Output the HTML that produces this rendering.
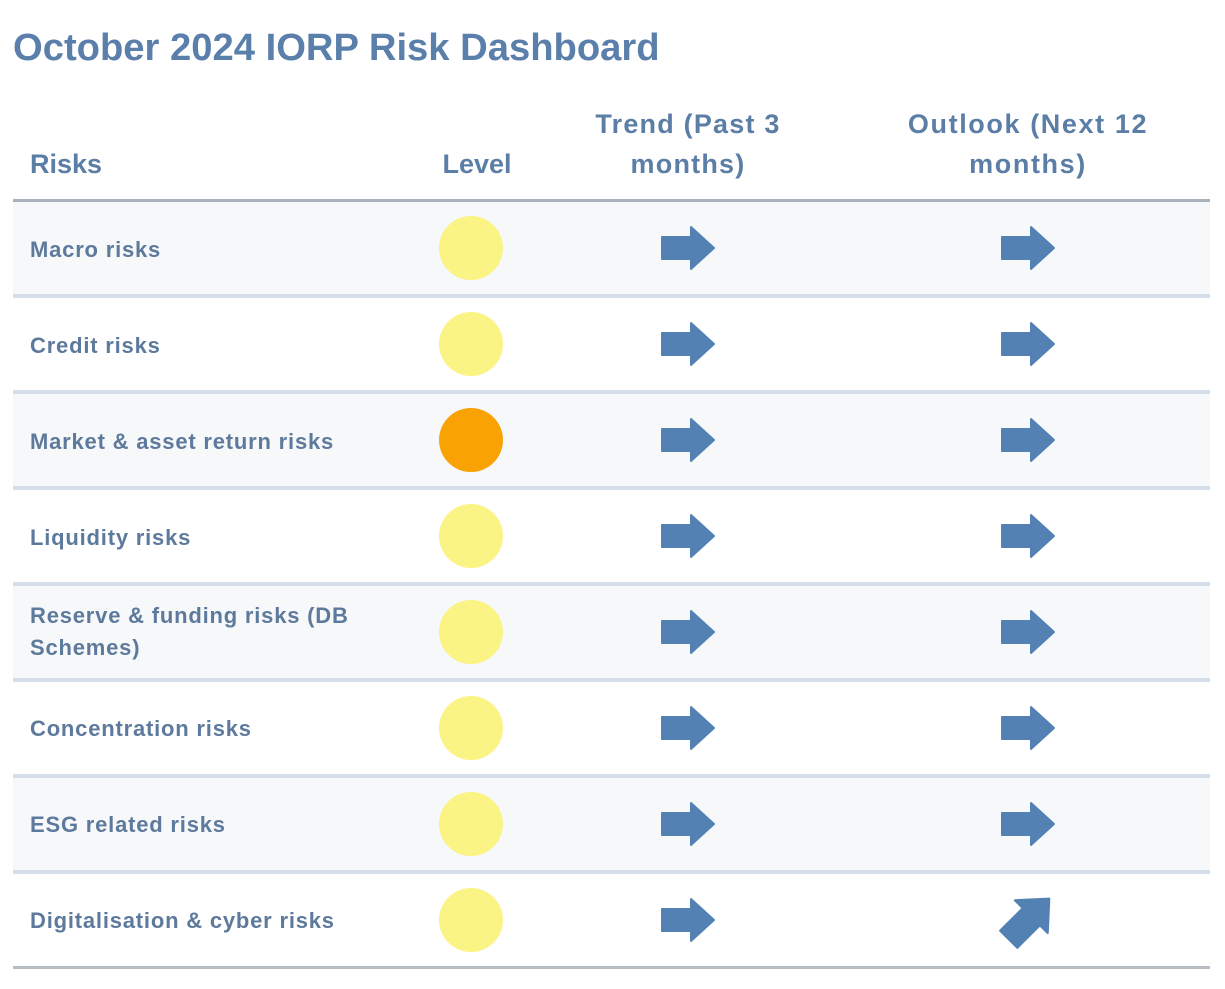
<!DOCTYPE html>
<html><head><meta charset="utf-8"><style>
html,body{margin:0;padding:0;background:#fff;width:1225px;height:989px;overflow:hidden}
svg{display:block}
text{font-family:"Liberation Sans",sans-serif;font-weight:bold}
</style></head><body>
<svg width="1225" height="989" viewBox="0 0 1225 989" xmlns="http://www.w3.org/2000/svg">
<defs>
<path id="ar" d="M-26,-11 H3 V-21 L26,0 L3,21 V11 H-26 Z" fill="#5381b3" stroke="#5381b3" stroke-width="2" stroke-linejoin="round"/>
</defs>
<rect width="1225" height="989" fill="#fff"/>
<text x="13" y="60" font-size="38.2" fill="#5a7fab">October 2024 IORP Risk Dashboard</text>

<g font-size="27" fill="#5b7ea6">
<text x="30" y="173">Risks</text>
<text x="477" y="173" text-anchor="middle">Level</text>
<text x="688" y="133" text-anchor="middle" letter-spacing="1.2">Trend (Past 3</text>
<text x="688" y="173" text-anchor="middle" letter-spacing="1.2">months)</text>
<text x="1028" y="133" text-anchor="middle" letter-spacing="1.6">Outlook (Next 12</text>
<text x="1028" y="173" text-anchor="middle" letter-spacing="1.6">months)</text>
</g>

<!-- rows backgrounds -->
<rect x="13" y="202" width="1197" height="92" fill="#f7f8fa"/>
<rect x="13" y="394" width="1197" height="92" fill="#f7f8fa"/>
<rect x="13" y="586" width="1197" height="92" fill="#f7f8fa"/>
<rect x="13" y="778" width="1197" height="92" fill="#f7f8fa"/>

<!-- separators -->
<rect x="13" y="199" width="1197" height="3" fill="#a9b1bb"/>
<g fill="#d4dde8">
<rect x="13" y="294" width="1197" height="4"/>
<rect x="13" y="390" width="1197" height="4"/>
<rect x="13" y="486" width="1197" height="4"/>
<rect x="13" y="582" width="1197" height="4"/>
<rect x="13" y="678" width="1197" height="4"/>
<rect x="13" y="774" width="1197" height="4"/>
<rect x="13" y="870" width="1197" height="4"/>
</g>
<rect x="13" y="966" width="1197" height="3" fill="#b8bdc4"/>

<!-- labels -->
<g font-size="22" fill="#5d7a9d" letter-spacing="0.8">
<text x="30" y="257">Macro risks</text>
<text x="30" y="353">Credit risks</text>
<text x="30" y="449">Market &amp; asset return risks</text>
<text x="30" y="545">Liquidity risks</text>
<text x="30" y="623">Reserve &amp; funding risks (DB</text>
<text x="30" y="655">Schemes)</text>
<text x="30" y="736">Concentration risks</text>
<text x="30" y="832">ESG related risks</text>
<text x="30" y="928">Digitalisation &amp; cyber risks</text>
</g>

<!-- circles -->
<g fill="#f9f483">
<circle cx="471" cy="248" r="32"/>
<circle cx="471" cy="344" r="32"/>
<circle cx="471" cy="536" r="32"/>
<circle cx="471" cy="632" r="32"/>
<circle cx="471" cy="728" r="32"/>
<circle cx="471" cy="824" r="32"/>
<circle cx="471" cy="920" r="32"/>
</g>
<circle cx="471" cy="440" r="32" fill="#f9a204"/>

<!-- trend arrows -->
<use href="#ar" x="688" y="248"/>
<use href="#ar" x="688" y="344"/>
<use href="#ar" x="688" y="440"/>
<use href="#ar" x="688" y="536"/>
<use href="#ar" x="688" y="632"/>
<use href="#ar" x="688" y="728"/>
<use href="#ar" x="688" y="824"/>
<use href="#ar" x="688" y="920"/>

<!-- outlook arrows -->
<use href="#ar" x="1028" y="248"/>
<use href="#ar" x="1028" y="344"/>
<use href="#ar" x="1028" y="440"/>
<use href="#ar" x="1028" y="536"/>
<use href="#ar" x="1028" y="632"/>
<use href="#ar" x="1028" y="728"/>
<use href="#ar" x="1028" y="824"/>
<g transform="translate(1029,919) rotate(-45) scale(1.1)">
<path d="M-26,-11 H3 V-21 L26,0 L3,21 V11 H-26 Z" fill="#5381b3" stroke="#5381b3" stroke-width="2" stroke-linejoin="round"/>
</g>
</svg>
</body></html>
